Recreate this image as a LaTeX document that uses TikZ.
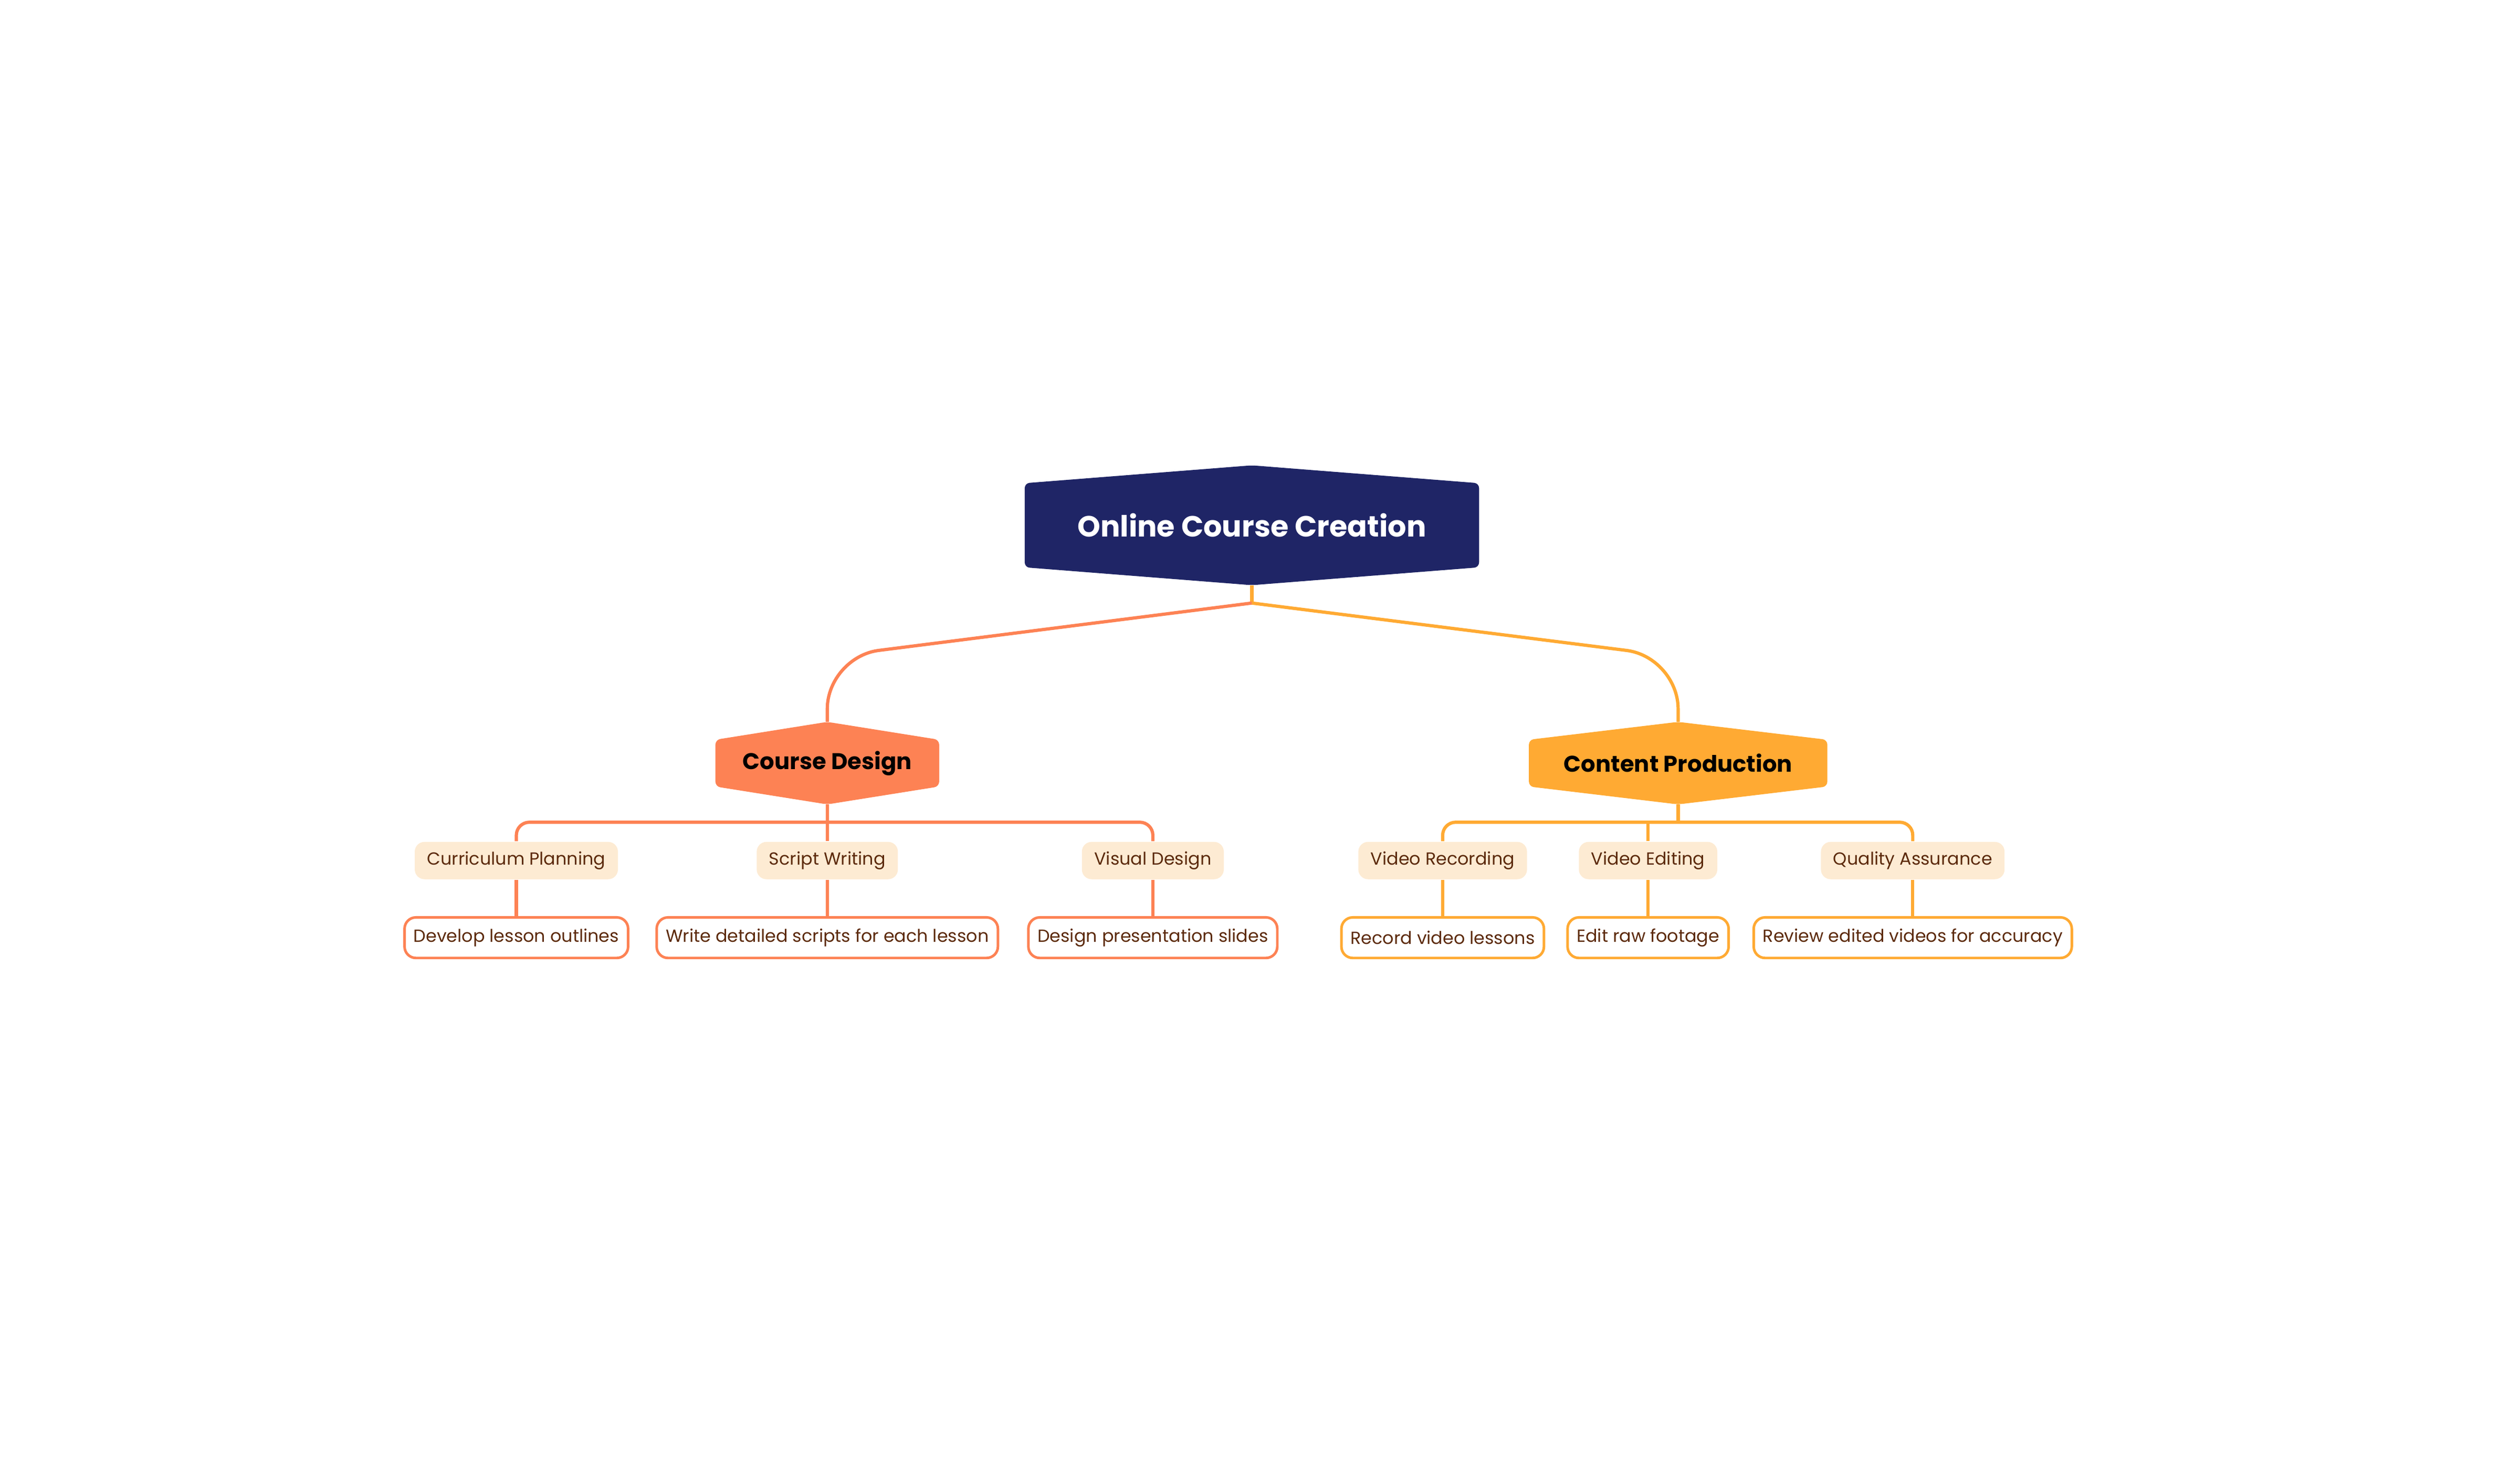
\documentclass[tikz,border=0pt]{standalone}
\usepackage{fontspec}
\setmainfont{Poppins}
\usetikzlibrary{calc,backgrounds}
\definecolor{navy}{HTML}{1F2566}
\definecolor{cone}{HTML}{FD8254}
\definecolor{ctwo}{HTML}{FFAA33}
\definecolor{subfill}{HTML}{FDEBD3}
\definecolor{brown}{HTML}{5C2A0C}
\newcommand\hexbg[3]{\fill[#2, rounded corners=1.5pt] (#1.north) -- ($(#1.north east)+(0,#3)$) -- ($(#1.south east)+(0,-#3)$) -- (#1.south) -- ($(#1.south west)+(0,-#3)$) -- ($(#1.north west)+(0,#3)$) -- cycle;}
\tikzset{
  hex/.style={inner sep=0pt, font=\bfseries},
  sub/.style={fill=subfill, rounded corners=3pt, text=brown, font=\fontsize{5.4}{6}\selectfont, inner xsep=3.8pt, inner ysep=0pt, minimum height=11.5pt},
  leaf/.style={draw=#1, fill=white, line width=0.8pt, rounded corners=3.5pt, text=brown, font=\fontsize{5.4}{6}\selectfont, inner xsep=2.8pt, inner ysep=0pt, minimum height=12.5pt},
  conn/.style={draw=#1, line width=1pt},
}
\begin{document}
\begin{tikzpicture}[x=0.5pt,y=-0.5pt]
\useasboundingbox (0,0) rectangle (1552,899);
\node[hex, minimum width=139.5pt, minimum height=36.5pt, text=white, font=\fontsize{9}{10}\selectfont\bfseries] (root) at (771,323.5) {Online Course Creation};
\node[hex, minimum width=68.5pt, minimum height=25pt, font=\fontsize{7}{8}\selectfont\bfseries] (cd) at (509.5,470) {Course Design};
\node[hex, minimum width=91.5pt, minimum height=25pt, font=\fontsize{7}{8}\selectfont\bfseries] (cp) at (1033.5,470) {Content Production};
\begin{scope}[on background layer]
\hexbg{root}{navy}{11}
\hexbg{cd}{cone}{11}
\hexbg{cp}{ctwo}{11}
\end{scope}
% sub nodes
\node[sub] (cur) at (318,530) {Curriculum Planning};
\node[sub] (scr) at (509.5,530) {Script Writing};
\node[sub] (vis) at (710,530) {Visual Design};
\node[sub] (rec) at (888.5,530) {Video Recording};
\node[sub] (edi) at (1015,530) {Video Editing};
\node[sub] (qua) at (1178,530) {Quality Assurance};
% leaves
\node[leaf=cone] (l1) at (318,577.5) {Develop lesson outlines};
\node[leaf=cone] (l2) at (509.5,577.5) {Write detailed scripts for each lesson};
\node[leaf=cone] (l3) at (710,577.5) {Design presentation slides};
\node[leaf=ctwo] (l4) at (888.5,577.5) {Record video lessons};
\node[leaf=ctwo] (l5) at (1015,577.5) {Edit raw footage};
\node[leaf=ctwo] (l6) at (1178,577.5) {Review edited videos for accuracy};
% coordinates
\coordinate (hub) at ($(root.south)+(0,11)$);
\coordinate (kl) at ($(cd.north)+(0,-40)$);
\coordinate (kr) at ($(cp.north)+(0,-40)$);
\coordinate (busl) at ($(cd.south)+(0,11)$);
\coordinate (busr) at ($(cp.south)+(0,11)$);
% connectors
\draw[conn=ctwo] (root.south) -- (hub);
\draw[conn=cone, rounded corners=16pt] (hub) -- (kl) -- (cd.north);
\draw[conn=ctwo, rounded corners=16pt] (hub) -- (kr) -- (cp.north);
\draw[conn=cone, rounded corners=4pt] (cur.north) |- (busl) -| (vis.north);
\draw[conn=cone] (cd.south) -- (scr.north);
\draw[conn=ctwo, rounded corners=4pt] (rec.north) |- (busr) -| (qua.north);
\draw[conn=ctwo] (cp.south) -- (busr);
\draw[conn=ctwo] (edi.north) -- (edi.north |- busr);
\draw[conn=cone] (cur.south) -- (l1.north);
\draw[conn=cone] (scr.south) -- (l2.north);
\draw[conn=cone] (vis.south) -- (l3.north);
\draw[conn=ctwo] (rec.south) -- (l4.north);
\draw[conn=ctwo] (edi.south) -- (l5.north);
\draw[conn=ctwo] (qua.south) -- (l6.north);
\end{tikzpicture}
\end{document}
